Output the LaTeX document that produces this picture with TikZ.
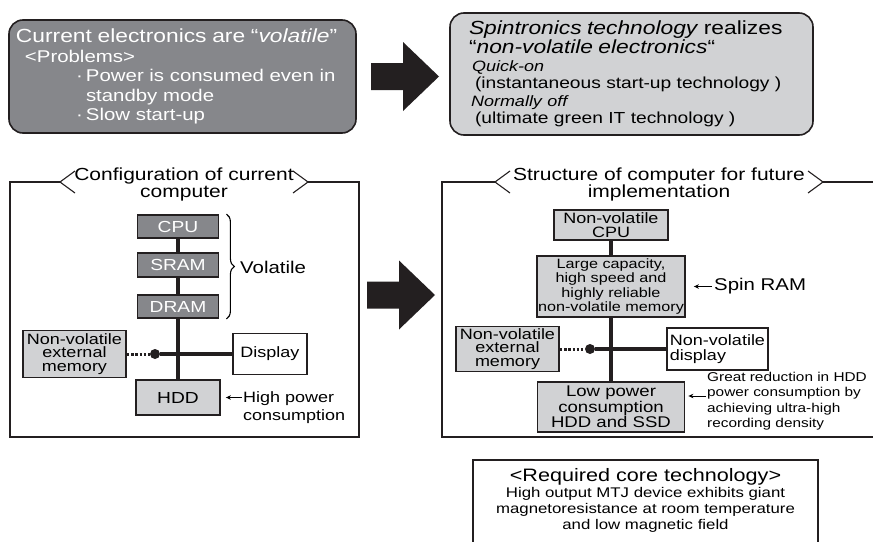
\documentclass[tikz,border=0pt]{standalone}
\usepackage{fontspec}
\setmainfont[FakeStretch=1.2]{Liberation Sans}
\usetikzlibrary{arrows.meta,decorations.pathreplacing,positioning}
\definecolor{boxdark}{RGB}{134,135,139}
\definecolor{boxlight}{RGB}{209,210,212}
\definecolor{inkblack}{RGB}{35,31,32}
\newcommand{\fsz}[2]{\fontsize{#1}{#2}\selectfont}
\newcommand{\bigarrow}[2]{\fill[inkblack] (#1,#2) ++(0,-13.5) -- ++(32,0) -- ++(0,-21) -- ++(36,34.5) -- ++(-36,34.5) -- ++(0,-21) -- ++(-32,0) -- cycle;}

\begin{document}
\begin{tikzpicture}[x=1pt,y=-1pt]
\tikzset{
  unitdark/.style={draw=inkblack,line width=1.8pt,fill=boxdark,text=white,inner sep=0pt,align=center,font=\fsz{16}{16}},
  unitlight/.style={draw=inkblack,line width=1.8pt,fill=boxlight,inner sep=0pt,align=center},
  unitwhite/.style={draw=inkblack,line width=1.5pt,fill=white,inner sep=0pt,align=center},
  bus/.style={draw=inkblack,line width=3.2pt},
  dotbus/.style={draw=inkblack,line width=3pt,dash pattern=on 2.4pt off 1.8pt},
  junction/.style={circle,fill=inkblack,minimum size=10pt,inner sep=0pt},
  pointer/.style={-{Stealth[length=5pt,width=4.5pt]},line width=0.9pt},
  frame/.style={draw=inkblack,line width=1.4pt},
  chevron/.style={draw=inkblack,line width=1.1pt},
  panel/.style={draw=inkblack,line width=1.6pt,rounded corners=14pt},
  note/.style={inner sep=0pt,align=left}
}
\useasboundingbox (0,0) rectangle (873,541);
\node[panel,fill=boxdark,text=white,minimum width=347,minimum height=113,text width=333,inner xsep=7pt,align=left,font=\fsz{17}{19.5}] (n_now) at (182.5,76.5) {{\fsz{19}{19.5}Current electronics are “\textit{volatile}”}\\
\hspace*{9pt}<Problems>\\
\hspace*{57pt}\makebox[13pt]{·}Power is consumed even in\\
\hspace*{70pt}standby mode\\
\hspace*{57pt}\makebox[13pt]{·}Slow start-up};
\node[panel,fill=boxlight,minimum width=363,minimum height=122,text width=325,inner xsep=19pt,align=left,font=\fsz{16}{17.5}] (n_spin) at (631.5,74) {{\fsz{19}{19}\textit{Spintronics technology} realizes}\\
{\fsz{19}{19}“\textit{non-volatile electronics}“}\\
\hspace*{3pt}{\fsz{15}{15}\textit{Quick-on}}\\
\hspace*{6pt}(instantaneous start-up technology )\\
\hspace*{2pt}{\fsz{15}{15}\textit{Normally off}}\\
\hspace*{6pt}(ultimate green IT technology )};
\bigarrow{371}{76.5}
\bigarrow{367}{295}
\draw[frame] (60,182) -- (10,182) -- (10,437) -- (359,437) -- (359,182) -- (308,182);
\draw[chevron] (75,171) -- (60,182) -- (75,193);
\draw[chevron] (293,171) -- (308,182) -- (293,193);
\node[align=center,inner sep=0pt,font=\fsz{17.5}{16.5}] (n_cfgtitle) at (184,184.5) {Configuration of current\\computer};
\draw[frame] (495,182) -- (442,182) -- (442,437) -- (880,437);
\draw[frame] (823,182) -- (880,182);
\draw[chevron] (510,171) -- (495,182) -- (510,193);
\draw[chevron] (808,171) -- (823,182) -- (808,193);
\node[align=center,inner sep=0pt,font=\fsz{17.5}{16.5}] (n_futtitle) at (659,184.5) {Structure of computer for future\\implementation};
\node[unitdark,minimum width=81,minimum height=23] (n_cpu) at (178,226.5) {CPU};
\node[unitdark,minimum width=81,minimum height=24] (n_sram) at (178,265) {SRAM};
\node[unitdark,minimum width=81,minimum height=23] (n_dram) at (178,306.5) {DRAM};
\node[unitlight,minimum width=84,minimum height=35,font=\fsz{16}{16}] (n_hdd) at (178,397.5) {HDD};
\node[unitlight,minimum width=103,minimum height=47,font=\fsz{15}{13.5}] (n_nvem) at (74.5,354) {Non-volatile\\external\\memory};
\node[unitwhite,minimum width=74,minimum height=41,font=\fsz{15}{15}] (n_disp) at (270,354) {Display};
\node[junction] (n_jl) at (155,354) {};
\draw[bus] (n_cpu) -- (n_sram);
\draw[bus] (n_sram) -- (n_dram);
\draw[bus] (n_dram) -- (n_hdd);
\draw[bus] (n_jl) -- (n_disp);
\draw[dotbus] (n_nvem) -- (n_jl);
\draw[decorate,decoration={brace,amplitude=8pt},line width=1.1pt] ([xshift=7pt]n_cpu.north east) -- ([xshift=7pt]n_dram.south east);
\node[anchor=west,inner sep=0pt,font=\fsz{17}{17}] (n_vol) at (240,267) {Volatile};
\node[note,anchor=west,font=\fsz{15}{18.5}] (n_hpc) at (243,407.5) {High power\\consumption};
\draw[pointer,shorten >=5pt,shorten <=1pt] (n_hpc.west |- n_hdd.east) -- (n_hdd.east);
\node[unitlight,minimum width=114,minimum height=30,font=\fsz{15}{13.5}] (n_nvcpu) at (611,225) {Non-volatile\\CPU};
\node[unitlight,minimum width=148,minimum height=61,font=\fsz{13.5}{14.5}] (n_spinram) at (611,286.5) {Large capacity,\\high speed and\\highly reliable\\non-volatile memory};
\node[unitlight,minimum width=147,minimum height=50,font=\fsz{15.5}{15.5}] (n_lowhdd) at (611,407) {Low power\\consumption\\HDD and SSD};
\node[unitlight,minimum width=103,minimum height=45,font=\fsz{15}{13.5}] (n_nvem2) at (507.5,349) {Non-volatile\\external\\memory};
\node[unitwhite,minimum width=101,minimum height=42,align=left,font=\fsz{15}{15}] (n_nvdisp) at (717.5,349) {Non-volatile\\display};
\node[junction] (n_jr) at (590,349) {};
\draw[bus] (n_nvcpu) -- (n_spinram);
\draw[bus] (n_spinram) -- (n_lowhdd);
\draw[bus] (n_jr) -- (n_nvdisp);
\draw[dotbus] (n_nvem2) -- (n_jr);
\node[anchor=west,inner sep=0pt,font=\fsz{17}{17}] (n_srlabel) at (714,286.5) {Spin RAM};
\draw[pointer,shorten >=8pt,shorten <=2pt] (n_srlabel.west) -- (n_spinram.east);
\node[note,anchor=north west,font=\fsz{12.8}{15.5}] (n_great) at (707,372) {Great reduction in HDD\\power consumption by\\achieving ultra-high\\recording density};
\coordinate (c_great) at (706,396);
\draw[pointer,shorten >=3pt] (c_great) -- (c_great -| n_lowhdd.east);
\node[draw=inkblack,line width=1.4pt,minimum width=345,minimum height=100] (n_core) at (645.5,510) {};
\node[align=center,inner sep=0pt,font=\fsz{14}{16}] (n_coretext) at (645.5,500) {{\fsz{18}{18}<Required core technology>}\\High output MTJ device exhibits giant\\magnetoresistance at room temperature\\and low magnetic field};
\end{tikzpicture}
\end{document}
